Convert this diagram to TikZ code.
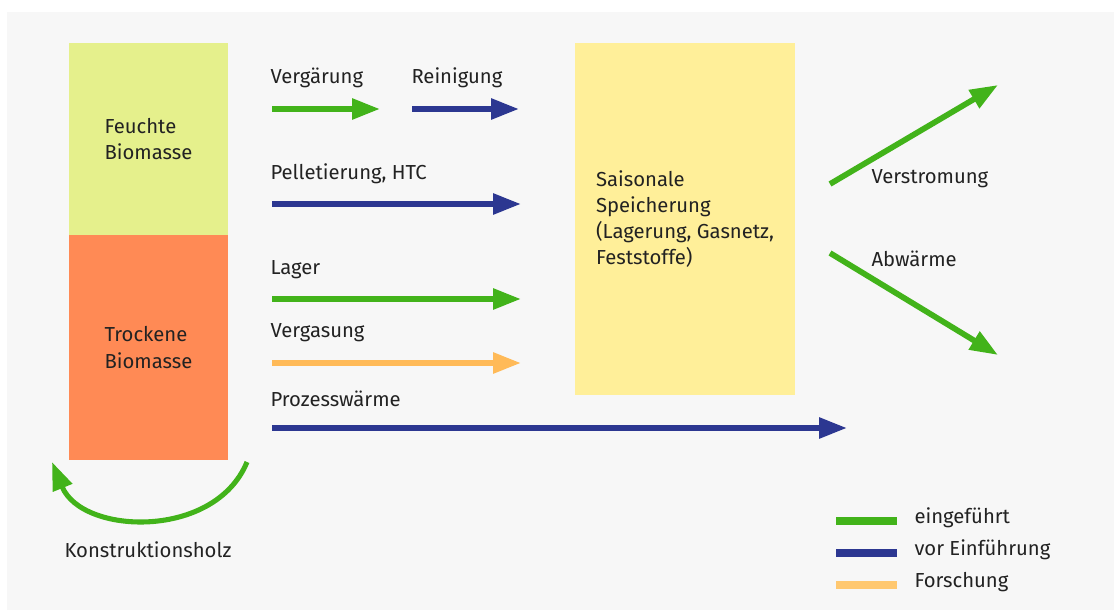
\documentclass[tikz,border=0pt]{standalone}
\usepackage{fontspec}
\setmainfont{Fira Sans}
\usetikzlibrary{arrows.meta}

\definecolor{grn}{RGB}{66,179,26}
\definecolor{blu}{RGB}{44,55,145}
\definecolor{org}{RGB}{255,186,88}
\definecolor{orglt}{RGB}{255,200,112}
\definecolor{boxgrn}{RGB}{229,240,140}
\definecolor{boxorg}{RGB}{255,138,85}
\definecolor{boxyel}{RGB}{255,239,153}
\definecolor{bggray}{RGB}{247,247,247}
\definecolor{txt}{RGB}{34,34,34}

\tikzset{every picture/.style={line width=0.75pt}}
\tikzset{
  lbl/.style={inner sep=0pt, anchor=west, text=txt, font=\fontsize{15.2}{19.6}\selectfont, align=left},
  blk/.style={inner sep=0pt, text=txt, font=\fontsize{15.2}{19.6}\selectfont, align=left},
  flow/.style={line width=4.3pt, -{Triangle[length=21pt,width=15pt]}},
  leg/.style={line width=6pt}
}

\begin{document}
\begin{tikzpicture}[x=0.75pt,y=0.75pt,yscale=-1,xscale=1]
      %background, sets the size of the page
      \fill [white] (0,0) rectangle (1114,610);
      \fill [bggray] (7,12) rectangle (1114,610);

      %blocks
      \node (feucht) [blk, fill=boxgrn, minimum width=119.25pt, minimum height=144pt] at (148.5,139) {Feuchte\\Biomasse};
      \node (trocken) [blk, fill=boxorg, minimum width=119.25pt, minimum height=168.75pt] at (148.5,347.5) {Trockene\\Biomasse};
      \node (speicher) [blk, fill=boxyel, minimum width=165pt, minimum height=264pt] at (685,219) {Saisonale\\Speicherung\\(Lagerung, Gasnetz,\\Feststoffe)};

      %end points of the arrows
      \coordinate (verg0) at (272,109);
      \coordinate (verg1) at (380,109);
      \coordinate (rein0) at (412,109);
      \coordinate (rein1) at (519,109);
      \coordinate (pell0) at (272,204);
      \coordinate (pell1) at (521,204);
      \coordinate (lag0) at (272,299);
      \coordinate (lag1) at (521,299);
      \coordinate (vgas0) at (272,363);
      \coordinate (vgas1) at (521,363);
      \coordinate (proz0) at (272,428);
      \coordinate (proz1) at (847,428);
      \coordinate (strom0) at (830,184);
      \coordinate (strom1) at (998,85);
      \coordinate (abw0) at (830,253);
      \coordinate (abw1) at (998,355);
      \coordinate (holz0) at (247,462);
      \coordinate (holz1) at (52,462);

      \draw [flow, grn] (verg0) -- (verg1);
      \draw [flow, blu] (rein0) -- (rein1);
      \draw [flow, blu] (pell0) -- (pell1);
      \draw [flow, grn] (lag0) -- (lag1);
      \draw [flow, org] (vgas0) -- (vgas1);
      \draw [flow, blu] (proz0) -- (proz1);
      \draw [flow, grn] (strom0) -- (strom1);
      \draw [flow, grn] (abw0) -- (abw1);
      \draw [flow, grn, line width=3.8pt] (holz0) .. controls (215,540) and (82,535) .. (holz1);

      %labels
      \node (tVerg) [lbl] at (270,78) {Vergärung};
      \node (tRein) [lbl] at (411,78) {Reinigung};
      \node (tPell) [lbl] at (270,174) {Pelletierung, HTC};
      \node (tLag) [lbl] at (270,270) {Lager};
      \node (tVgas) [lbl] at (270,333) {Vergasung};
      \node (tProz) [lbl] at (270,399) {Prozesswärme};
      \node (tStrom) [lbl] at (871,179) {Verstromung};
      \node (tAbw) [lbl] at (871,259) {Abwärme};
      \node (tHolz) [lbl] at (64,550) {Konstruktionsholz};

      %legend
      \draw [leg, grn] (836,521) -- (897,521);
      \draw [leg, blu] (836,553) -- (897,553);
      \draw [leg, orglt] (836,585) -- (897,585);
      \node (lEin) [lbl] at (914,518) {eingeführt};
      \node (lVor) [lbl] at (914,550) {vor Einführung};
      \node (lFor) [lbl] at (914,582) {Forschung};

\end{tikzpicture}
\end{document}
